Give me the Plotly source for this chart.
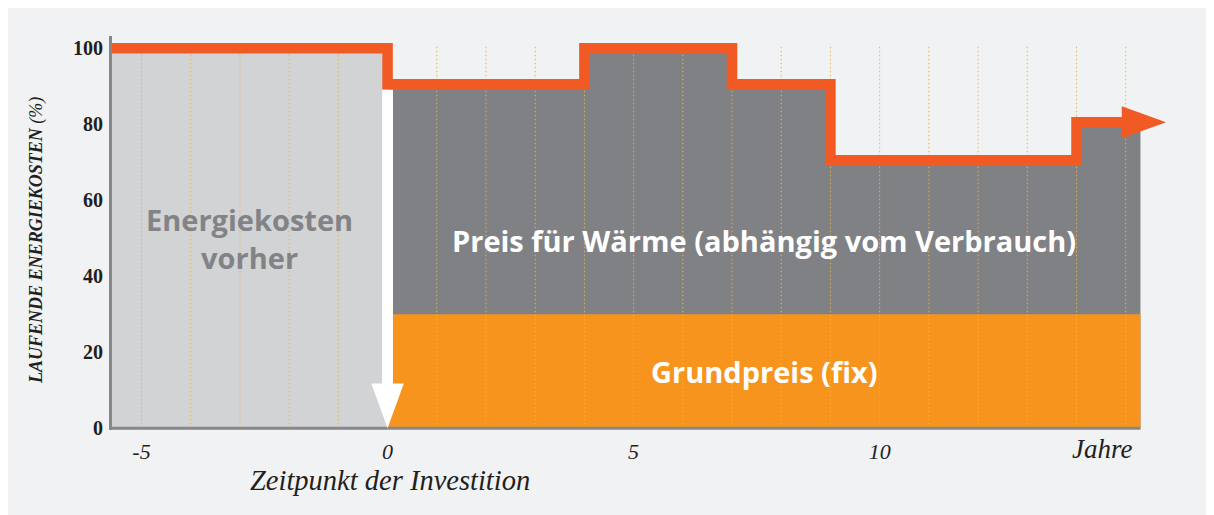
import plotly.graph_objects as go

# ---------------- data ----------------
before_start = -5.6            # start of the "before" period (years)
invest_year = 0                # time of investment
before_level = 100             # energy cost before (%)
step_years = [0, 4, 7, 9, 14]  # years where the heat price changes
price_levels = [90.5, 100, 90.5, 70.5, 80.5]  # total running cost (%)
period_end = 15.3              # end of shown period
arrow_start = 14.92            # where the trend arrow head begins
base_price = 30                # fixed base price (%)
grid_years = [-5, -4, -3, -2, -1, 1, 2, 3, 4, 5, 6, 7, 8, 9, 10, 11, 12, 13, 14, 15]
x_tickvals = [-5, 0, 5, 10]
x_ticktext = ["-5", "0", "5", "10"]
y_tickvals = [0, 20, 40, 60, 80, 100]
y_ticktext = ["0", "20", "40", "60", "80", "100"]

# ---------------- geometry / style ----------------
OFF = 8                      # page body margin of the html page
W, H = 1214 - OFF, 515 - OFF
PX_X = 49.2                  # pixels per year
X0_PX = 387.5 - OFF          # pixel of year 0 (figure coords)
PX_Y = 3.795                 # pixels per percent
Y0_PX = 428.0 - OFF          # pixel of 0 % (figure coords)
XMAX = 16.51
YMIN, YMAX = -0.45, 103.2

L = X0_PX + before_start * PX_X
R_PX = X0_PX + XMAX * PX_X
T = Y0_PX - YMAX * PX_Y
B_PX = Y0_PX - YMIN * PX_Y
plotW = R_PX - L
plotH = B_PX - T


def paper_x(px):
    return (px - OFF - L) / plotW


def paper_y(py):
    return (B_PX - (py - OFF)) / plotH


BG = "#f1f2f4"
LIGHT_GRAY = "#d1d3d4"
DARK_GRAY = "#808184"
ORANGE = "#f7941d"
RED_ORANGE = "#f15a22"
DOT = "#fbb320"
AXIS = "#86878a"
TEXT = "#231f20"

LINE_W = 10.5
half_line = LINE_W / 2 / PX_Y
shaft_half = 0.11
head_half = 0.33
head_len = 11.8
trend_head_len = 0.9
trend_head_half = 4.2

fig = go.Figure()

# light gray: costs before
fig.add_trace(go.Scatter(
    x=[before_start, invest_year], y=[before_level, before_level],
    fill="tozeroy", fillcolor=LIGHT_GRAY, mode="lines", line=dict(width=0),
    hoverinfo="skip", showlegend=False))

# dark gray: price depending on consumption
fig.add_trace(go.Scatter(
    x=step_years + [period_end], y=price_levels + [price_levels[-1]],
    fill="tozeroy", fillcolor=DARK_GRAY, mode="lines", line=dict(width=0, shape="hv"),
    hoverinfo="skip", showlegend=False))

# orange: fixed base price
fig.add_trace(go.Scatter(
    x=[invest_year, period_end], y=[base_price, base_price],
    fill="tozeroy", fillcolor=ORANGE, mode="lines", line=dict(width=0),
    hoverinfo="skip", showlegend=False))

# dotted year lines
gx, gy = [], []
for yr in grid_years:
    gx += [yr, yr, None]
    gy += [0, before_level + 0.5, None]
fig.add_trace(go.Scatter(
    x=gx, y=gy, mode="lines", line=dict(color=DOT, width=1, dash="1.5px,2.5px"),
    hoverinfo="skip", showlegend=False))

# bottom axis line
fig.add_trace(go.Scatter(
    x=[before_start, period_end], y=[0, 0], mode="lines",
    line=dict(color=AXIS, width=3), hoverinfo="skip", showlegend=False))

# white arrow at investment time
shaft_top = price_levels[0] - half_line
fig.add_trace(go.Scatter(
    x=[invest_year - shaft_half, invest_year + shaft_half, invest_year + shaft_half,
       invest_year + head_half, invest_year, invest_year - head_half,
       invest_year - shaft_half, invest_year - shaft_half],
    y=[shaft_top, shaft_top, head_len, head_len, 0, head_len, head_len, shaft_top],
    fill="toself", fillcolor="#ffffff", mode="lines", line=dict(width=0),
    hoverinfo="skip", showlegend=False))

# total cost trend line
fig.add_trace(go.Scatter(
    x=[before_start] + step_years + [arrow_start + 0.05],
    y=[before_level] + price_levels + [price_levels[-1]],
    mode="lines", line=dict(color=RED_ORANGE, width=LINE_W, shape="hv"),
    hoverinfo="skip", showlegend=False))

# trend arrow head
lv = price_levels[-1]
fig.add_trace(go.Scatter(
    x=[arrow_start, arrow_start + trend_head_len, arrow_start, arrow_start],
    y=[lv + trend_head_half, lv, lv - trend_head_half, lv + trend_head_half],
    fill="toself", fillcolor=RED_ORANGE, mode="lines", line=dict(width=0),
    hoverinfo="skip", showlegend=False))

sans = dict(family="'Open Sans', Lato, sans-serif", weight="bold")
serif = "Liberation Serif"

annotations = [
    dict(x=(before_start + invest_year) / 2, y=before_level / 2, xref="x", yref="y",
         text="Energiekosten<br>vorher", showarrow=False,
         xanchor="center", yanchor="middle",
         font=dict(size=29, color="#828386", **sans)),
    dict(x=(invest_year + period_end) / 2, y=49.5, xref="x", yref="y",
         text="Preis für Wärme (abhängig vom Verbrauch)", showarrow=False,
         xanchor="center", yanchor="middle",
         font=dict(size=29, color="#ffffff", **sans)),
    dict(x=(invest_year + period_end) / 2, y=base_price / 2, xref="x", yref="y",
         text="Grundpreis (fix)", showarrow=False,
         xanchor="center", yanchor="middle",
         font=dict(size=29, color="#ffffff", **sans)),
    dict(x=paper_x(37), y=49.3, xref="paper", yref="y", textangle=-90,
         xanchor="center", yanchor="middle",
         text="<b>LAUFENDE ENERGIEKOSTEN</b> (%)", showarrow=False,
         font=dict(family=serif, size=18, style="italic", color=TEXT)),
    dict(x=invest_year + 0.05, y=paper_y(480), xref="x", yref="paper",
         xanchor="center", yanchor="middle",
         text="Zeitpunkt der Investition", showarrow=False,
         font=dict(family=serif, size=28.5, style="italic", color=TEXT)),
    dict(x=14.52, y=paper_y(449), xref="x", yref="paper",
         xanchor="center", yanchor="middle",
         text="Jahre", showarrow=False,
         font=dict(family=serif, size=27, style="italic", color=TEXT)),
]

shapes = [
    dict(type="rect", xref="paper", yref="paper", layer="below",
         x0=paper_x(7), x1=paper_x(1213), y0=paper_y(530), y1=paper_y(6),
         fillcolor=BG, line=dict(color="#d6d7d9", width=2)),
]

fig.update_layout(
    width=W, height=H,
    margin=dict(l=L, r=W - R_PX, t=T, b=H - B_PX, pad=0),
    paper_bgcolor="#ffffff", plot_bgcolor="rgba(0,0,0,0)",
    showlegend=False,
    annotations=annotations, shapes=shapes,
    xaxis=dict(range=[before_start, XMAX], showgrid=False, zeroline=False, showline=False,
               tickmode="array", tickvals=x_tickvals, ticktext=x_ticktext, ticks="",
               ticklabelstandoff=6,
               tickfont=dict(family=serif, size=22, style="italic", color=TEXT)),
    yaxis=dict(range=[YMIN, YMAX], showgrid=False, zeroline=False, showline=True,
               linecolor=AXIS, linewidth=3,
               tickmode="array", tickvals=y_tickvals, ticktext=y_ticktext, ticks="",
               ticklabelstandoff=2,
               tickfont=dict(family=serif, size=20, weight="bold", color=TEXT)),
)

fig.write_html("out.html")
